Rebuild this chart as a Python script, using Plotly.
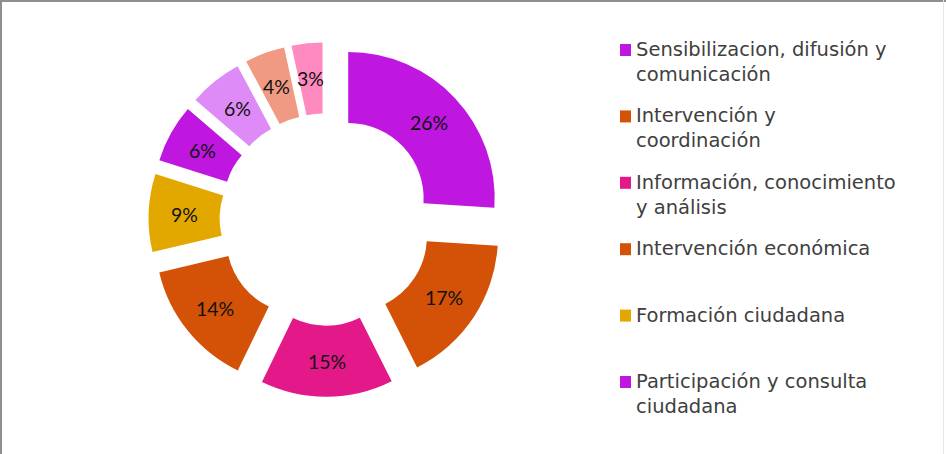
import math
import plotly.graph_objects as go

# ---- data (shares; labels show rounded %) ----
categories = [
    "Sensibilizacion, difusión y comunicación",
    "Intervención y coordinación",
    "Información, conocimiento y análisis",
    "Intervención económica",
    "Formación ciudadana",
    "Participación y consulta ciudadana",
    "Categoría 7",
    "Categoría 8",
    "Categoría 9",
]
values = [26.0, 16.6, 14.6, 14.1, 8.6, 6.4, 5.9, 4.4, 3.4]
colors = ["#BF17DF", "#D35208", "#E3198A", "#D35208", "#E3A800",
          "#BF17DF", "#DE8AF7", "#F09A84", "#FF8AC0"]

# legend text as shown (wrapped) for the visible entries
legend_text = [
    "Sensibilizacion, difusión y<br>comunicación",
    "Intervención y<br>coordinación",
    "Información, conocimiento<br>y análisis",
    "Intervención económica",
    "Formación ciudadana",
    "Participación y consulta<br>ciudadana",
]

W, H = 946, 454
FONT = "'DejaVu Sans', sans-serif"
PFONT = "Lato, sans-serif"
HOLE = 0.515
PULL = 0.21
DOM_X = [0.1570, 0.5318]
DOM_Y = [0.1261, 0.9069]

fig = go.Figure()
fig.add_trace(go.Pie(
    labels=categories,
    values=values,
    marker=dict(colors=colors, line=dict(width=0)),
    hole=HOLE,
    pull=PULL,
    sort=False,
    direction="clockwise",
    rotation=0,
    textinfo="none",
    hovertemplate="%{label}: %{percent:.0%}<extra></extra>",
    showlegend=False,
    domain=dict(x=DOM_X, y=DOM_Y),
))

# percentage labels placed in the middle of each (pulled) ring segment
cx = (DOM_X[0] + DOM_X[1]) / 2 * W
cy = H - (DOM_Y[0] + DOM_Y[1]) / 2 * H
R = min((DOM_X[1] - DOM_X[0]) * W, (DOM_Y[1] - DOM_Y[0]) * H) / 2 / (1 + PULL)
rad = R * (1 + HOLE) / 2 + R * PULL
total = sum(values)
annotations = []
cum = 0.0
for v in values:
    mid = (cum + v / 2) / total * 2 * math.pi
    cum += v
    px = cx + rad * math.sin(mid)
    py = cy - rad * math.cos(mid)
    annotations.append(dict(xref="paper", yref="paper", x=px / W, y=1 - py / H,
                            xanchor="center", yanchor="middle", showarrow=False,
                            text=f"{round(v / total * 100)}%",
                            font=dict(family=PFONT, size=19.5, color="#111111")))

# manual legend (text + colour swatch) for the visible entries
shapes = []
y0 = 50.0
step = 66.4
for i, txt in enumerate(legend_text):
    yc = y0 + i * step
    shapes.append(dict(type="rect", xref="paper", yref="paper",
                       x0=620 / W, x1=631 / W,
                       y0=1 - (yc + 6) / H, y1=1 - (yc - 6) / H,
                       fillcolor=colors[i], line=dict(width=0)))
    annotations.append(dict(xref="paper", yref="paper",
                            x=634 / W, y=1 - (yc - 14) / H,
                            xanchor="left", yanchor="top", align="left",
                            showarrow=False, text=txt,
                            font=dict(family=FONT, size=19.5, color="#404040")))

# chart frame
shapes.append(dict(type="line", xref="paper", yref="paper", x0=1 / W, x1=1 / W,
                   y0=0, y1=1, line=dict(color="#8F8F8F", width=2)))
shapes.append(dict(type="line", xref="paper", yref="paper", x0=0, x1=1,
                   y0=1 - 1 / H, y1=1 - 1 / H, line=dict(color="#8F8F8F", width=2)))
shapes.append(dict(type="line", xref="paper", yref="paper", x0=943.5 / W, x1=943.5 / W,
                   y0=0, y1=1, line=dict(color="#E6E6E6", width=1)))

fig.update_layout(
    width=W, height=H,
    margin=dict(l=0, r=0, t=0, b=0),
    paper_bgcolor="white",
    plot_bgcolor="white",
    shapes=shapes,
    annotations=annotations,
    font=dict(family=FONT),
)

fig.write_html("out.html",
               config={"displayModeBar": False},
               post_script="document.body.style.margin='0';document.body.style.overflow='hidden';")
